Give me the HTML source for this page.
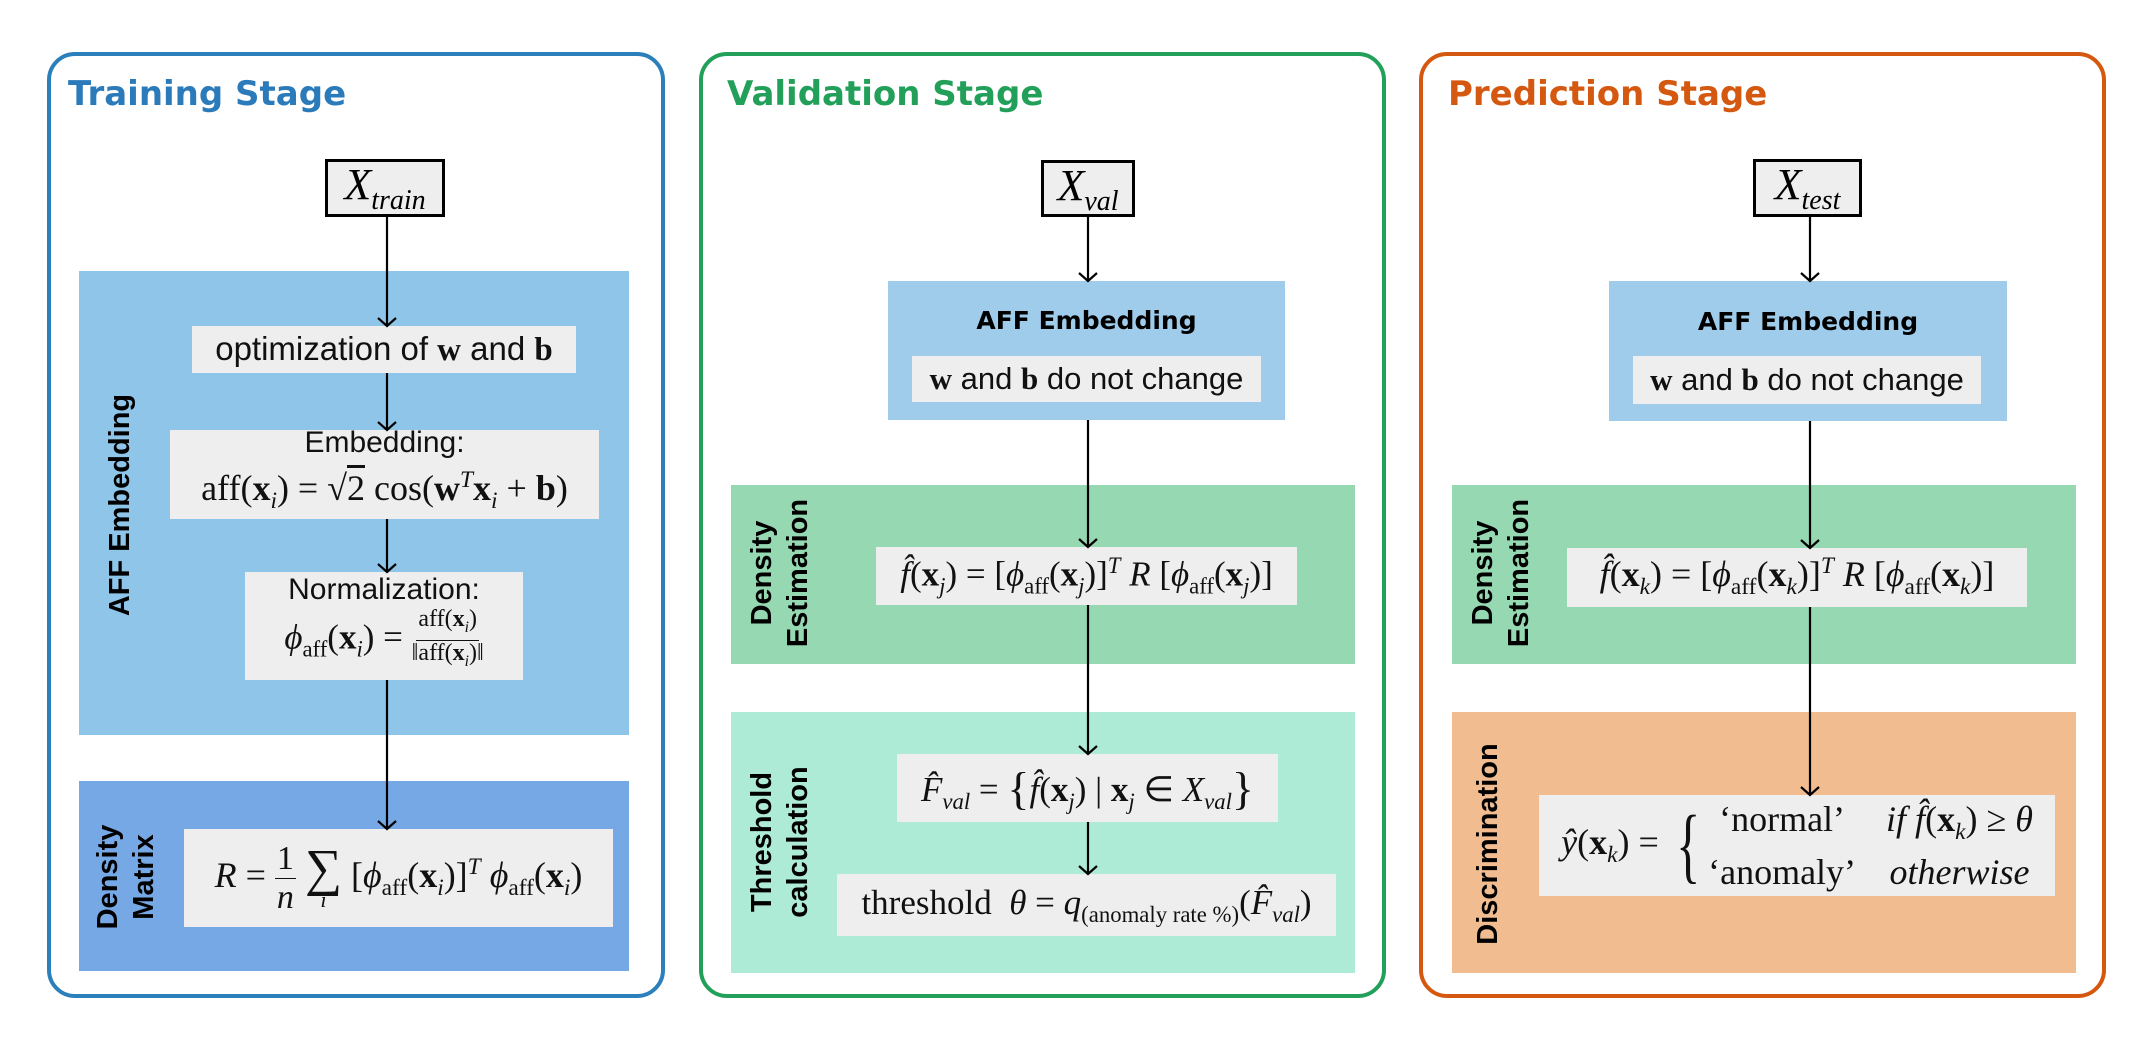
<!DOCTYPE html>
<html><head><meta charset="utf-8">
<style>
body{margin:0;width:2150px;height:1050px;background:#fff;position:relative;overflow:hidden;font-family:"Liberation Serif",serif;}
.a{position:absolute;box-sizing:border-box;}
.panel{border:4px solid;border-radius:28px;}
.title{font-family:"DejaVu Sans","Liberation Sans",sans-serif;font-weight:bold;font-size:34px;white-space:nowrap;}
.box{background:#eeeeee;display:flex;flex-direction:column;align-items:center;justify-content:center;white-space:nowrap;color:#111;}
.in{background:#eeeeee;border:3px solid #000;display:flex;align-items:center;justify-content:center;font-size:44px;}
.sans{font-family:"Liberation Sans",sans-serif;}
.m{font-size:35px;}
i{font-style:italic;}
b{font-weight:bold;}
sub,sup{font-size:65%;}
.vl{font-family:"Liberation Sans Narrow","Liberation Sans",sans-serif;font-weight:bold;font-size:29px;color:#000;white-space:nowrap;text-align:center;line-height:36px;transform:translate(-50%,-50%) rotate(-90deg);transform-origin:center;}
.frac{display:inline-flex;flex-direction:column;align-items:center;vertical-align:middle;font-size:24px;line-height:25px;}
.frac > span:first-child{border-bottom:1.5px solid #111;padding:0 2px;}
.hd{font-family:"DejaVu Sans","Liberation Sans",sans-serif;font-weight:bold;font-size:25px;}
.sb{font-family:"Liberation Serif",serif;font-weight:bold;}
</style></head><body>

<div class="a panel" style="left:47px;top:52px;width:618px;height:946px;border-color:#2b7fba;"></div>
<div class="a panel" style="left:699px;top:52px;width:687px;height:946px;border-color:#22a05a;"></div>
<div class="a panel" style="left:1419px;top:52px;width:687px;height:946px;border-color:#d4580f;"></div>

<div class="a title" style="left:68px;top:74px;color:#2b7bba;">Training Stage</div>
<div class="a title" style="left:727px;top:74px;color:#22a05a;">Validation Stage</div>
<div class="a title" style="left:1448px;top:74px;color:#d4580f;">Prediction Stage</div>

<!-- Training -->
<div class="a" style="left:79px;top:271px;width:550px;height:464px;background:#8ec5e8;"></div>
<div class="a" style="left:79px;top:781px;width:550px;height:190px;background:#76a8e6;"></div>
<div class="a vl" style="left:120px;top:505px;">AFF Embedding</div>
<div class="a vl" style="left:126px;top:877px;">Density<br>Matrix</div>

<div class="a in" style="left:325px;top:159px;width:120px;height:58px;"><span><i>X</i><sub style="font-size:28px;"><i>train</i></sub></span></div>
<div class="a box sans" style="left:192px;top:326px;width:384px;height:47px;font-size:33px;"><span>optimization of <span class="sb">w</span> and <span class="sb">b</span></span></div>
<div class="a box" style="left:170px;top:430px;width:429px;height:89px;">
<div class="sans" style="font-size:30px;line-height:32px;">Embedding:</div>
<div style="font-size:36px;line-height:42px;">aff(<b>x</b><sub><i>i</i></sub>) = √<span style="text-decoration:overline">2</span> cos(<b>w</b><sup><i>T</i></sup><b>x</b><sub><i>i</i></sub> + <b>b</b>)</div></div>
<div class="a box" style="left:245px;top:572px;width:278px;height:108px;">
<div class="sans" style="font-size:30px;line-height:34px;">Normalization:</div>
<div style="font-size:35px;line-height:58px;"><i>ϕ</i><sub>aff</sub>(<b>x</b><sub><i>i</i></sub>) = <span class="frac"><span>aff(<b>x</b><sub><i>i</i></sub>)</span><span>‖aff(<b>x</b><sub><i>i</i></sub>)‖</span></span></div></div>
<div class="a box" style="left:184px;top:829px;width:429px;height:98px;font-size:36px;">
<span><i>R</i> = <span class="frac" style="font-size:34px;line-height:38px;"><span>1</span><span><i>n</i></span></span> <span style="display:inline-flex;flex-direction:column;align-items:center;vertical-align:middle;line-height:44px;"><span style="font-size:52px;">∑</span><span style="font-size:22px;line-height:18px;"><i>i</i></span></span> [<i>ϕ</i><sub>aff</sub>(<b>x</b><sub><i>i</i></sub>)]<sup><i>T</i></sup> <i>ϕ</i><sub>aff</sub>(<b>x</b><sub><i>i</i></sub>)</span></div>

<!-- Validation -->
<div class="a" style="left:888px;top:281px;width:397px;height:139px;background:#a0ccec;"></div>
<div class="a hd" style="left:888px;top:306px;width:397px;text-align:center;">AFF Embedding</div>
<div class="a box sans" style="left:912px;top:356px;width:349px;height:46px;font-size:31px;"><span><span class="sb">w</span> and <span class="sb">b</span> do not change</span></div>
<div class="a" style="left:731px;top:485px;width:624px;height:179px;background:#95d8b1;"></div>
<div class="a" style="left:731px;top:712px;width:624px;height:261px;background:#aeebd6;"></div>
<div class="a vl" style="left:780px;top:573px;">Density<br>Estimation</div>
<div class="a vl" style="left:780px;top:842px;">Threshold<br>calculation</div>
<div class="a in" style="left:1041px;top:160px;width:94px;height:57px;"><span><i>X</i><sub style="font-size:28px;"><i>val</i></sub></span></div>
<div class="a box m" style="left:876px;top:547px;width:421px;height:58px;"><span><i>f̂</i>(<b>x</b><sub><i>j</i></sub>) = [<i>ϕ</i><sub>aff</sub>(<b>x</b><sub><i>j</i></sub>)]<sup><i>T</i></sup> <i>R</i> [<i>ϕ</i><sub>aff</sub>(<b>x</b><sub><i>j</i></sub>)]</span></div>
<div class="a box m" style="left:897px;top:754px;width:381px;height:68px;"><span><i>F̂</i><sub><i>val</i></sub> = <span style="font-size:46px;vertical-align:-3px;">{</span><i>f̂</i>(<b>x</b><sub><i>j</i></sub>) | <b>x</b><sub><i>j</i></sub> ∈ <i>X</i><sub><i>val</i></sub><span style="font-size:46px;vertical-align:-3px;">}</span></span></div>
<div class="a box m" style="left:837px;top:874px;width:499px;height:62px;"><span>threshold&nbsp;&nbsp;<i>θ</i> = <i>q</i><sub>(anomaly rate %)</sub>(<i>F̂</i><sub><i>val</i></sub>)</span></div>

<!-- Prediction -->
<div class="a" style="left:1609px;top:281px;width:398px;height:140px;background:#a0ccec;"></div>
<div class="a hd" style="left:1609px;top:307px;width:398px;text-align:center;">AFF Embedding</div>
<div class="a box sans" style="left:1633px;top:356px;width:348px;height:48px;font-size:31px;"><span><span class="sb">w</span> and <span class="sb">b</span> do not change</span></div>
<div class="a" style="left:1452px;top:485px;width:624px;height:179px;background:#95d8b1;"></div>
<div class="a" style="left:1452px;top:712px;width:624px;height:261px;background:#f1bd90;"></div>
<div class="a vl" style="left:1501px;top:573px;">Density<br>Estimation</div>
<div class="a vl" style="left:1488px;top:844px;">Discrimination</div>
<div class="a in" style="left:1753px;top:159px;width:109px;height:58px;"><span><i>X</i><sub style="font-size:28px;"><i>test</i></sub></span></div>
<div class="a box m" style="left:1567px;top:548px;width:460px;height:59px;font-size:36px;"><span><i>f̂</i>(<b>x</b><sub><i>k</i></sub>) = [<i>ϕ</i><sub>aff</sub>(<b>x</b><sub><i>k</i></sub>)]<sup><i>T</i></sup> <i>R</i> [<i>ϕ</i><sub>aff</sub>(<b>x</b><sub><i>k</i></sub>)]</span></div>
<div class="a box" style="left:1539px;top:795px;width:516px;height:101px;font-size:36px;"><span style="display:inline-flex;align-items:center;"><span><i>ŷ</i>(<b>x</b><sub><i>k</i></sub>) =&nbsp;</span><span style="font-size:84px;line-height:84px;transform:scaleX(0.6);display:inline-block;">{</span>
<span style="display:inline-grid;grid-template-columns:auto auto;column-gap:30px;line-height:40px;"><span style="text-align:center">‘normal’</span><span><i>if f̂</i>(<b>x</b><sub><i>k</i></sub>) ≥ <i>θ</i></span><span>‘anomaly’</span><span style="text-align:center"><i>otherwise</i></span></span></span></div>

<svg class="a" style="left:0;top:0;" width="2150" height="1050" viewBox="0 0 2150 1050">
<g stroke="#000" stroke-width="2.2" fill="none">
<path d="M387 217V326M378 318L387 326L396 318"/>
<path d="M387 373V430M378 422L387 430L396 422"/>
<path d="M387 519V572M378 564L387 572L396 564"/>
<path d="M387 680V829M378 821L387 829L396 821"/>
<path d="M1088 217V281M1079 273L1088 281L1097 273"/>
<path d="M1088 420V547M1079 539L1088 547L1097 539"/>
<path d="M1088 605V754M1079 746L1088 754L1097 746"/>
<path d="M1088 822V874M1079 866L1088 874L1097 866"/>
<path d="M1810 217V281M1801 273L1810 281L1819 273"/>
<path d="M1810 421V548M1801 540L1810 548L1819 540"/>
<path d="M1810 607V795M1801 787L1810 795L1819 787"/>
</g></svg>
</body></html>
